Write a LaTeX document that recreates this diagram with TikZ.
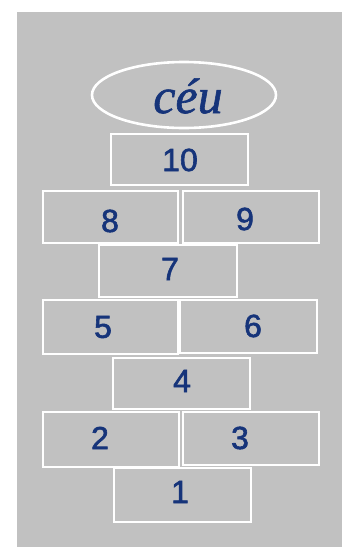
\documentclass[tikz,border=0pt]{standalone}
\usepackage{fontspec}
\setmainfont{Liberation Sans}
\newfontfamily\digitfont{Liberation Sans}[FakeBold=1.8]
\newfontfamily\cursivefont{Liberation Serif}[FakeBold=1.2]
\usetikzlibrary{shapes.geometric}
\definecolor{bggray}{RGB}{193,193,193}
\definecolor{inkblue}{RGB}{22,52,122}
\tikzset{
  hopbox/.style={draw=white, line width=2.6pt, minimum width=#1, minimum height=52pt, inner sep=0pt},
  hopbox/.default=136pt,
  num/.style={text=inkblue, font=\digitfont\fontsize{32}{32}\selectfont, inner sep=0pt, anchor=center},
}
\begin{document}
\begin{tikzpicture}[x=1pt,y=-1pt]
\useasboundingbox (0,0) rectangle (342,547);
\fill[white] (0,0) rectangle (342,547);
\fill[bggray] (17,12) rectangle (342,547);
% sky
\node[ellipse, draw=white, line width=2.6pt, minimum width=184pt, minimum height=66pt, inner sep=0pt] (ceu) at (184,95) {};
\node[text=inkblue, font=\cursivefont\itshape\fontsize{50}{50}\selectfont, inner sep=0pt] (tceu) at (188,96) {céu};
% boxes
\node[hopbox=137pt, minimum height=51pt] (b10) at (179.5,159.5) {};
\node[hopbox=135pt] (b8) at (110.5,217) {};
\node[hopbox=136pt] (b9) at (251,217) {};
\node[hopbox=138pt] (b7) at (168,271) {};
\node[hopbox=135pt, minimum height=54pt] (b5) at (110.5,327) {};
\node[hopbox=137pt, minimum height=53pt] (b6) at (248.5,326.5) {};
\node[hopbox=137pt, minimum height=51pt] (b4) at (181.5,383.5) {};
\node[hopbox=136pt, minimum height=55pt] (b2) at (111,439.5) {};
\node[hopbox=136pt, minimum height=53pt] (b3) at (251,438.5) {};
\node[hopbox=137pt, minimum height=54pt] (b1) at (182.5,495) {};
% numbers
\node[num] (t10) at (180,160) {10};
\node[num] (t8) at (110,221) {8};
\node[num] (t9) at (245,219) {9};
\node[num] (t7) at (170,269) {7};
\node[num] (t5) at (103,327) {5};
\node[num] (t6) at (253,326) {6};
\node[num] (t4) at (182,381) {4};
\node[num] (t2) at (100,438) {2};
\node[num] (t3) at (240,438) {3};
\node[num] (t1) at (180,492) {1};
\end{tikzpicture}
\end{document}
